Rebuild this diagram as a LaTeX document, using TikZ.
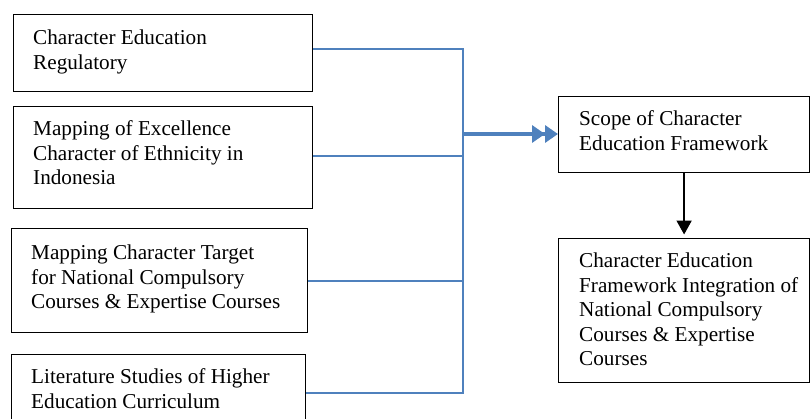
\documentclass[tikz,border=0pt]{standalone}
\usepackage{fontspec}
\setmainfont{Liberation Serif}
\usetikzlibrary{arrows.meta}
\definecolor{linkblue}{HTML}{4F81BD}
\begin{document}
\begin{tikzpicture}[x=1pt,y=-1pt,
  boxnode/.style={draw=black,line width=1.2pt,anchor=north west,inner sep=0pt},
  txt/.style={anchor=north west,inner sep=0pt,align=left,font=\fontsize{21.2}{24.6}\selectfont},
  link/.style={draw=linkblue,line width=2.6pt},
  biglink/.style={draw=linkblue,line width=4pt,-{Triangle[length=13pt,width=17pt]Triangle[length=13pt,width=17pt]}},
  downarrow/.style={draw=black,line width=2pt,-{Triangle[length=14pt,width=15pt]},shorten >=3.5pt}]
\useasboundingbox (0,0) rectangle (810,418);
\begin{scope}
\clip (0,0) rectangle (810,418);
% boxes
\node[boxnode,minimum width=299pt,minimum height=77pt] (b1) at (13,14) {};
\node[boxnode,minimum width=299pt,minimum height=102pt] (b2) at (13,106) {};
\node[boxnode,minimum width=296pt,minimum height=104pt] (b3) at (11,228) {};
\node[boxnode,minimum width=294pt,minimum height=80pt] (b4) at (11,354) {};
\node[boxnode,minimum width=251pt,minimum height=76pt] (s1) at (558,96) {};
\node[boxnode,minimum width=251pt,minimum height=144pt] (s2) at (558,238) {};
% texts
\node[txt] (t1) at (33,29.5) {Character Education\\Regulatory};
\node[txt] (t2) at (33,120.5) {Mapping of Excellence\\Character of Ethnicity in\\Indonesia};
\node[txt] (t3) at (31,244.5) {Mapping Character Target\\for National Compulsory\\Courses \& Expertise Courses};
\node[txt] (t4) at (31,368.5) {Literature Studies of Higher\\Education Curriculum};
\node[txt] (u1) at (579,110.5) {Scope of Character\\Education Framework};
\node[txt] (u2) at (579,252.5) {Character Education\\Framework Integration of\\National Compulsory\\Courses \& Expertise\\Courses};
% connectors
\coordinate (j1) at (463,49);
\coordinate (j2) at (463,156);
\coordinate (j3) at (463,281);
\coordinate (j4) at (463,393);
\coordinate (jm) at (463,134);
\draw[link] (b1.east |- j1) -- (j1);
\draw[link] (b2.east |- j2) -- (j2);
\draw[link] (b3.east |- j3) -- (j3);
\draw[link] (b4.east |- j4) -- (j4);
\draw[link,line cap=rect] (j1) -- (j4);
\draw[biglink] (jm) -- (s1.west |- jm);
\draw[downarrow] (s1.south) -- (s2.north);
\end{scope}
\end{tikzpicture}
\end{document}
